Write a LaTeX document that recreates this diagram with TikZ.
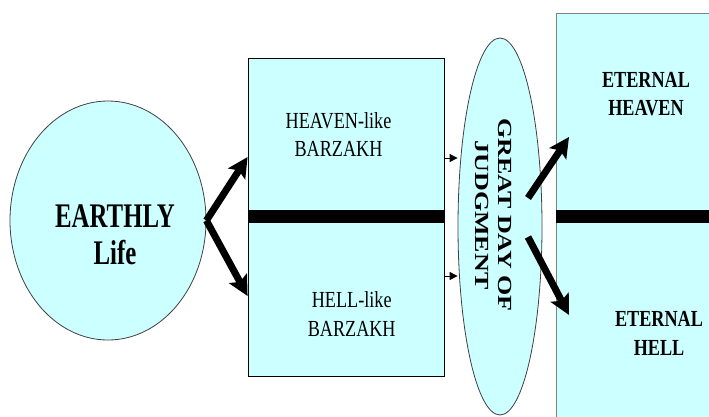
\documentclass[tikz,border=0pt]{standalone}
\usepackage{fontspec}
\setmainfont{Liberation Serif}
\newfontfamily\earthfont[FakeStretch=0.72]{Liberation Serif}
\newfontfamily\barzfont[FakeStretch=0.79]{Liberation Serif}
\newfontfamily\eternfont[FakeStretch=0.79]{Liberation Serif}
\newfontfamily\judgfont[FakeStretch=1.3]{Liberation Serif}
\usetikzlibrary{shapes.geometric,arrows.meta}
\definecolor{lcyan}{HTML}{CCFFFF}
\begin{document}
\begin{tikzpicture}[x=1pt,y=-1pt,
  shapebox/.style={draw=black,line width=0.8pt,fill=lcyan,inner sep=0pt},
  bigarrow/.style={line width=7pt,-{Stealth[length=20pt,width=20pt,inset=4pt]}},
  smallarrow/.style={line width=1pt,-{Triangle[length=8pt,width=8pt]}},
  txt/.style={align=center,inner sep=0pt}]
\useasboundingbox (0,0) rectangle (709,416);
% shapes
\node[ellipse,shapebox,draw=black!75,minimum width=196pt,minimum height=239pt] (earth) at (108,220.5) {};
\node[rectangle,shapebox,minimum width=196pt,minimum height=318pt] (lbox) at (346,217) {};
\node[ellipse,shapebox,draw=black!75,minimum width=84pt,minimum height=377pt] (judg) at (500,226.5) {};
\node[rectangle,shapebox,draw=black!50,minimum width=170pt,minimum height=420pt,anchor=north west] (rbox) at (556,13) {};
% bars
\fill[black] (lbox.west |- 0,210) rectangle (lbox.east |- 0,223);
\fill[black] (rbox.west |- 0,210) rectangle (709,223);
% texts
\node[txt,font=\earthfont\bfseries\fontsize{34.5}{37}\selectfont] (earthtxt) at (115,235) {EARTHLY\\Life};
\node[txt,font=\barzfont\fontsize{23}{28}\selectfont] (heavb) at (338.5,135) {HEAVEN-like\\BARZAKH};
\node[txt,font=\barzfont\fontsize{23}{28.5}\selectfont] (hellb) at (351.7,313.8) {HELL-like\\BARZAKH};
\node[txt,font=\eternfont\bfseries\fontsize{23}{28}\selectfont] (eheav) at (646,94.5) {ETERNAL\\HEAVEN};
\node[txt,font=\eternfont\bfseries\fontsize{23}{29}\selectfont] (ehell) at (659,333.5) {ETERNAL\\HELL};
\node[txt,rotate=-90,font=\judgfont\bfseries\fontsize{20}{23.3}\selectfont] (judgtxt) at (493.4,215) {GREAT DAY OF\\JUDGMENT};
% arrows
\draw[bigarrow] (earth.east) -- (lbox.west |- 0,157);
\draw[bigarrow] (earth.east) -- (lbox.west |- 0,296);
\draw[smallarrow] (lbox.east |- 0,158) -- (judg.west |- 0,158);
\draw[smallarrow] (lbox.east |- 0,276) -- (judg.west |- 0,276);
\coordinate (j1) at (528,198);
\coordinate (j2) at (528,237);
\coordinate (t1) at (569,137);
\coordinate (t2) at (569,315);
\draw[bigarrow] (j1) -- (t1);
\draw[bigarrow] (j2) -- (t2);
\end{tikzpicture}
\end{document}
